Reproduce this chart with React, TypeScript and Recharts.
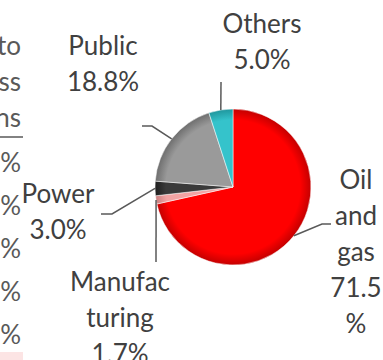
import { PieChart, Pie, Cell } from 'recharts';

// emissions share by sector
const sectors = ['Oil and gas', 'Manufacturing', 'Power', 'Public', 'Others'];
const shares = [71.5, 1.7, 3.0, 18.8, 5.0];
const sliceColors = ['#FF0000', '#F2A3A3', '#3A3A3A', '#9A9A9A', '#35C3CB'];
const sliceRims = ['#C40000', '#C98080', '#1E1E1E', '#6E6E6E', '#1F969D'];
const labelText = [
  ['Oil', 'and', 'gas', '71.5', '%'],
  ['Manufac', 'turing', '1.7%'],
  ['Power', '3.0%'],
  ['Public', '18.8%'],
  ['Others', '5.0%'],
];

// cut-off table on the left of the slide
const headerTail = ['to', 'ss', 'ns'];
const rowTail = ['%', '%', '%', '%', '%'];

// where each label sits (leader points after the slice edge, text centre, first baseline)
const labelLayout = [
  { leader: [[322, 224], [331, 224]], x: 356, y: 189 },
  { leader: [[156, 262]], x: 120, y: 291 },
  { leader: [[112, 214], [101, 214]], x: 58, y: 203 },
  { leader: [[152, 126], [142, 126]], x: 103, y: 55 },
  { leader: [[221, 82]], x: 262, y: 33 },
];

const data = sectors.map((name, i) => ({ name, value: shares[i] }));

const FONT = 'Lato, "Open Sans", sans-serif';
const RAD = Math.PI / 180;
const LINE_H = 36;

const renderLabel = (props: any) => {
  const { cx, cy, midAngle, outerRadius, index } = props;
  const sx = cx + outerRadius * Math.cos(-midAngle * RAD);
  const sy = cy + outerRadius * Math.sin(-midAngle * RAD);
  const lay = labelLayout[index];
  const pts = [[sx, sy], ...lay.leader].map((p) => p.join(',')).join(' ');
  return (
    <g key={`lbl-${index}`}>
      <polyline points={pts} fill='none' stroke='#595959' strokeWidth={1.5} />
      <text
        x={lay.x}
        y={lay.y}
        textAnchor='middle'
        fill='#404040'
        fontFamily={FONT}
        fontSize={26}
      >
        {labelText[index].map((t, j) => (
          <tspan key={j} x={lay.x} y={lay.y + j * LINE_H}>
            {t}
          </tspan>
        ))}
      </text>
    </g>
  );
};

const App = () => {
  return (
    <div style={{ position: 'absolute', left: 0, top: 0, width: 383, height: 360, background: '#fff' }}>
      <svg width={383} height={360} style={{ position: 'absolute', left: 0, top: 0 }}>
        {headerTail.map((t, i) => (
          <text key={t} x={21} y={55 + i * 36} textAnchor='end' fill='#595959' fontFamily={FONT} fontSize={26}>
            {t}
          </text>
        ))}
        <line x1={0} y1={137} x2={23} y2={137} stroke='#595959' strokeWidth={1.5} />
        {rowTail.map((t, i) => (
          <text key={i} x={21} y={172 + i * 43} textAnchor='end' fill='#595959' fontFamily={FONT} fontSize={26}>
            {t}
          </text>
        ))}
        <rect x={0} y={352} width={23} height={8} fill='#FCE4E4' />
      </svg>
      <div style={{ position: 'absolute', left: 0, top: 0 }}>
        <PieChart width={383} height={360} margin={{ top: 0, right: 0, bottom: 0, left: 0 }}>
          <defs>
            {sliceColors.map((c, i) => (
              <radialGradient key={i} id={`slice-${i}`} cx={233} cy={187} r={78} gradientUnits='userSpaceOnUse'>
                <stop offset='0%' stopColor={c} />
                <stop offset='86%' stopColor={c} />
                <stop offset='100%' stopColor={sliceRims[i]} />
              </radialGradient>
            ))}
          </defs>
          <Pie
            data={data}
            dataKey='value'
            nameKey='name'
            cx={233}
            cy={187}
            outerRadius={78}
            startAngle={90}
            endAngle={-270}
            stroke='#ffffff'
            strokeWidth={0.5}
            label={renderLabel}
            labelLine={false}
            isAnimationActive={false}
          >
            {data.map((d, i) => (
              <Cell key={d.name} fill={`url(#slice-${i})`} />
            ))}
          </Pie>
        </PieChart>
      </div>
    </div>
  );
};

export default App;
